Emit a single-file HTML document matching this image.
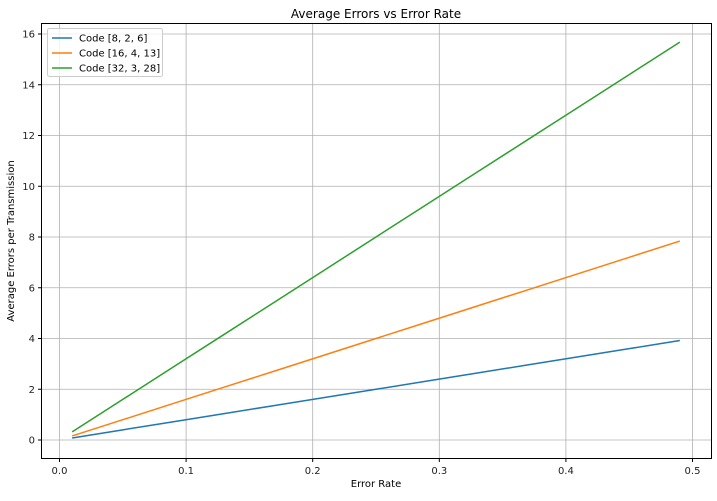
<!DOCTYPE html>
<html><head><meta charset="utf-8"><style>
body{margin:0;background:#fff;font-family:"Liberation Sans","DejaVu Sans",sans-serif}
</style></head><body>
<svg id="chart" width="717" height="496" xmlns="http://www.w3.org/2000/svg" font-family="'DejaVu Sans','Liberation Sans',sans-serif">
<g id="grid"></g>
<g id="series"></g>
<rect x="41.5" y="23.5" width="670" height="435" fill="none" stroke="#000" stroke-width="1"/>
<g id="ticks" font-size="10" fill="#222"></g>
<text x="376" y="18" text-anchor="middle" font-size="12">Average Errors vs Error Rate</text>
<text x="376" y="487" text-anchor="middle" font-size="10">Error Rate</text>
<text transform="translate(14,241) rotate(-90)" text-anchor="middle" font-size="10">Average Errors per Transmission</text>
<g>
<rect x="47.5" y="28.5" width="115" height="48" fill="#fff" fill-opacity="0.8" stroke="#ccc" rx="2"/>
<g id="legend-items"></g>
</g>
</svg>
<script>
const xValues=[0.01,0.05,0.09,0.13,0.17,0.21,0.25,0.29,0.33,0.37,0.41,0.45,0.49];
const seriesA=[0.08,0.40,0.72,1.04,1.36,1.68,2.00,2.32,2.64,2.96,3.28,3.60,3.92];
const seriesB=[0.16,0.80,1.44,2.08,2.72,3.36,4.00,4.64,5.28,5.92,6.56,7.20,7.84];
const seriesC=[0.32,1.60,2.88,4.16,5.44,6.72,8.00,9.28,10.56,11.84,13.12,14.40,15.68];
const seriesNames=["Code [8, 2, 6]","Code [16, 4, 13]","Code [32, 3, 28]"];
const xTicks=[0.0,0.1,0.2,0.3,0.4,0.5];
const yTicks=[0,2,4,6,8,10,12,14,16];
const colors=["#1f77b4","#ff7f0e","#2ca02c"];
const NS="http://www.w3.org/2000/svg";
function xs(v){return 59.5+v*1266;}
function ys(v){return 440-v*25.375;}
function mk(t,a,p){const e=document.createElementNS(NS,t);for(const k in a)e.setAttribute(k,a[k]);p.appendChild(e);return e;}
const grid=document.getElementById('grid'),ticks=document.getElementById('ticks');
xTicks.forEach(v=>{const x=xs(v);
 const l=mk('line',{x1:x,x2:x,y1:23.5,y2:458.5,stroke:'#b0b0b0','stroke-width':0.8},grid);
 
 
 const tk=mk('line',{x1:x,x2:x,y1:458.5,y2:462,stroke:'#000'},ticks);
 
 
 const t=mk('text',{x:x,y:474,'text-anchor':'middle'},ticks);t.textContent=v.toFixed(1);
 
 });
yTicks.forEach(v=>{const y=ys(v);
 const l=mk('line',{x1:41.5,x2:711.5,y1:y,y2:y,stroke:'#b0b0b0','stroke-width':0.8},grid);
 
 
 const tk=mk('line',{x1:38,x2:41.5,y1:y,y2:y,stroke:'#000'},ticks);
 
 
 const t=mk('text',{x:35,y:y+3.5,'text-anchor':'end'},ticks);t.textContent=v;
 
 });
const ser=document.getElementById('series'),leg=document.getElementById('legend-items');
[seriesA,seriesB,seriesC].forEach((s,i)=>{
 const p=mk('polyline',{points:s.map((v,j)=>xs(xValues[j])+','+ys(v)).join(' '),fill:'none',stroke:colors[i],'stroke-width':1.5},ser);
 
 
 const y=38+i*15;
 const ll=mk('line',{x1:52,x2:72,y1:y,y2:y,stroke:colors[i],'stroke-width':1.5},leg);
 
 
 const t=mk('text',{x:79,y:y+3.5,'font-size':10},leg);t.textContent=seriesNames[i];
 
 });
</script>
</body></html>
